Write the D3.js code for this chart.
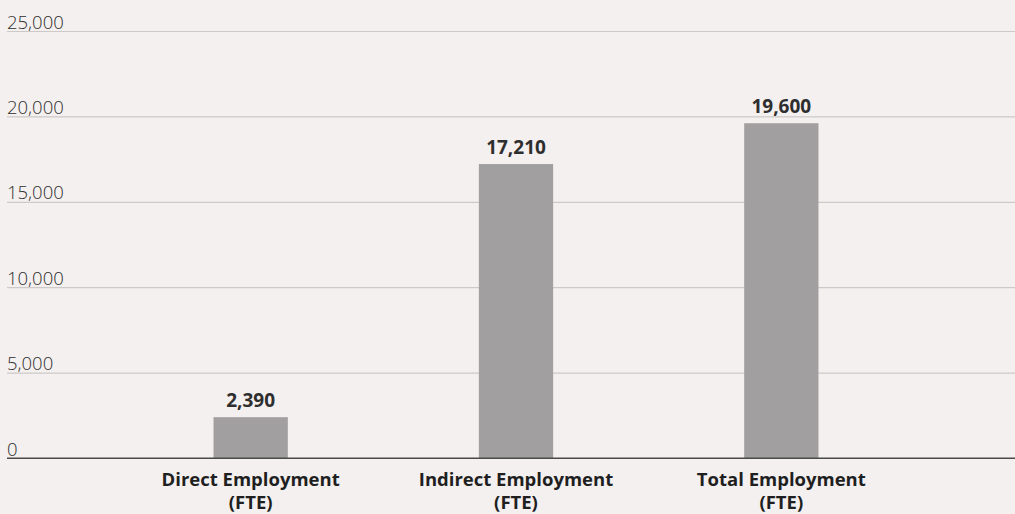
<!DOCTYPE html>
<html>
<head>
<meta charset="utf-8">
<script src="https://cdn.jsdelivr.net/npm/d3@7"></script>
<style>
  html, body { margin: 0; padding: 0; background: #f4f0ef; }
  svg { display: block; }
</style>
</head>
<body>
<svg id="chart" width="1015" height="514"></svg>
<script>
// Employment impact, full-time equivalents
const categories = ["Direct Employment|(FTE)", "Indirect Employment|(FTE)", "Total Employment|(FTE)"];
const values = [2390, 17210, 19600];
const yTicks = [0, 5000, 10000, 15000, 20000, 25000];

const svg = d3.select("#chart");
const W = 1015;
const font = "'Open Sans', sans-serif";

const y = d3.scaleLinear().domain([0, 25000]).range([458, 31]);
const x = d3.scaleBand().domain(categories).range([118, 914])
  .paddingInner(0.72).paddingOuter(0.36);

// horizontal gridlines and tick labels
const yAxis = d3.axisLeft(y).tickValues(yTicks).tickSize(0).tickFormat(d3.format(","));
const gy = svg.append("g").attr("transform", "translate(7,0)").call(yAxis);
gy.select(".domain").remove();
gy.selectAll(".tick line")
  .attr("x1", 0).attr("x2", W - 7)
  .attr("stroke", d => d === 0 ? "#4a4a4a" : "#cdc9c8")
  .attr("stroke-width", 1.2);
gy.selectAll(".tick text")
  .attr("x", 0).attr("dy", "-3px")
  .attr("text-anchor", "start")
  .attr("font-family", font).attr("font-size", 18.5)
  .attr("font-weight", 300)
  .attr("fill", "#2e2e2e");

// bars
svg.append("g").selectAll("rect").data(values).join("rect")
  .attr("x", (d, i) => x(categories[i]))
  .attr("width", x.bandwidth())
  .attr("y", d => y(d))
  .attr("height", d => y(0) - y(d))
  .attr("fill", "#a19f9f");

// redraw baseline over the bars
svg.append("line")
  .attr("x1", 7).attr("x2", W)
  .attr("y1", y(0)).attr("y2", y(0))
  .attr("stroke", "#4a4a4a").attr("stroke-width", 1.2);

// value labels
svg.append("g").selectAll("text").data(values).join("text")
  .attr("x", (d, i) => x(categories[i]) + x.bandwidth() / 2)
  .attr("y", d => y(d) - 10)
  .attr("text-anchor", "middle")
  .attr("font-family", font).attr("font-size", 19).attr("font-weight", 700)
  .attr("fill", "#2e2e2e")
  .text(d => d3.format(",")(d));

// category labels (two lines)
const cat = svg.append("g").selectAll("text").data(categories).join("text")
  .attr("x", d => x(d) + x.bandwidth() / 2)
  .attr("y", 486)
  .attr("text-anchor", "middle")
  .attr("font-family", font).attr("font-size", 18.5).attr("font-weight", 700)
  .attr("fill", "#1f1f1f");
cat.selectAll("tspan").data(d => d.split("|")).join("tspan")
  .attr("x", function() { return this.parentNode.getAttribute("x"); })
  .attr("dy", (d, i) => i === 0 ? 0 : 23)
  .text(d => d);
</script>
</body>
</html>
